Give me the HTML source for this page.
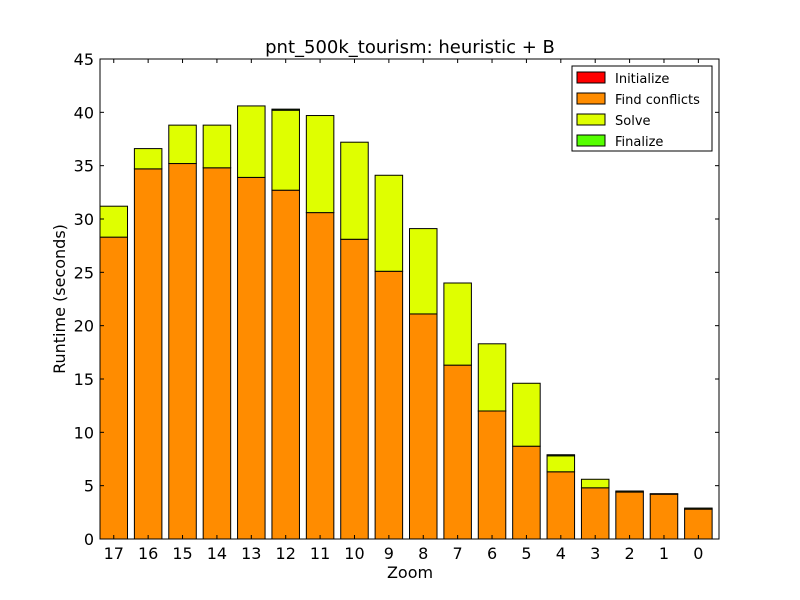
<!DOCTYPE html>
<html><head><meta charset="utf-8"><style>body{margin:0;background:#fff}svg{display:block}text{font-family:"DejaVu Sans","Liberation Sans",sans-serif}</style></head>
<body>
<svg id="chart" width="800" height="600">
<rect width="800" height="600" fill="#fff"/>
<text x="410" y="53" font-size="18" text-anchor="middle">pnt_500k_tourism: heuristic + B</text>
<g id="bars"></g>
<rect x="100" y="59" width="619" height="480" fill="none" stroke="#000" stroke-width="1"/>
<g id="axes"></g>
<text x="410" y="578" font-size="16" text-anchor="middle">Zoom</text>
<text transform="translate(65,299) rotate(-90)" font-size="16" text-anchor="middle">Runtime (seconds)</text>
<g id="legend">
<rect x="572" y="66" width="140" height="85" fill="#fff" stroke="#000"/>
</g>
</svg>
<script>
const categories=["17","16","15","14","13","12","11","10","9","8","7","6","5","4","3","2","1","0"];
const initialize=[0,0,0,0,0,0,0,0,0,0,0,0,0,0,0,0,0,0];
const findConflicts=[28.3,34.7,35.2,34.8,33.9,32.7,30.6,28.1,25.1,21.1,16.3,12.0,8.7,6.3,4.8,4.4,4.2,2.8];
const solve=[2.9,1.9,3.6,4.0,6.7,7.5,9.1,9.1,9.0,8.0,7.7,6.3,5.9,1.5,0.8,0.1,0.05,0.1];
const finalize=[0,0,0,0,0,0.1,0,0,0,0,0,0,0,0.1,0,0,0,0];
const yTicks=[0,5,10,15,20,25,30,35,40,45];
const seriesNames=["Initialize","Find conflicts","Solve","Finalize"];
const seriesColors=["#ff0000","#ff8c00","#dfff00","#55ff00"];
const NS="http://www.w3.org/2000/svg";
const X0=100,W=619,Y0=539,H=480,YMAX=45;
const step=W/categories.length;
function y(v){return Y0-v/YMAX*H;}
function xl(i){return X0+i*step;}
function xc(i){return xl(i)+0.4*step;}
function mk(t,a,p){const e=document.createElementNS(NS,t);for(const k in a)e.setAttribute(k,a[k]);p.appendChild(e);return e;}
const bars=document.getElementById('bars');
const series=[initialize,findConflicts,solve,finalize];
categories.forEach((c,i)=>{
 let base=0;
 series.forEach((s,j)=>{
  const v=s[i]; if(v<=0) return;
  const r=mk('rect',{x:xl(i),y:y(base+v),width:0.8*step,height:y(base)-y(base+v),fill:seriesColors[j],stroke:'#000','stroke-width':1},bars);
  
  
  base+=v;
 });
});
const axes=document.getElementById('axes');
yTicks.forEach(t=>{
 const yy=y(t);
 mk('line',{x1:X0,x2:X0+4,y1:yy,y2:yy,stroke:'#000'},axes);
 mk('line',{x1:X0+W-4,x2:X0+W,y1:yy,y2:yy,stroke:'#000'},axes);
 const tx=mk('text',{x:X0-6,y:yy+6,'font-size':16,'text-anchor':'end'},axes);
 tx.textContent=t;
 
 
});
categories.forEach((c,i)=>{
 const xx=xc(i);
 mk('line',{x1:xx,x2:xx,y1:Y0,y2:Y0-4,stroke:'#000'},axes);
 mk('line',{x1:xx,x2:xx,y1:Y0-H,y2:Y0-H+4,stroke:'#000'},axes);
 const tx=mk('text',{x:xx,y:Y0+20,'font-size':16,'text-anchor':'middle'},axes);
 tx.textContent=c;
 
 
});
const lg=document.getElementById('legend');
seriesNames.forEach((n,j)=>{
 const yy=72+j*21;
 const r=mk('rect',{x:577,y:yy,width:28,height:11,fill:seriesColors[j],stroke:'#000'},lg);
 
 
 const t=mk('text',{x:615,y:yy+11,'font-size':13},lg);
 t.textContent=n;
 
 
});
</script>
</body></html>
